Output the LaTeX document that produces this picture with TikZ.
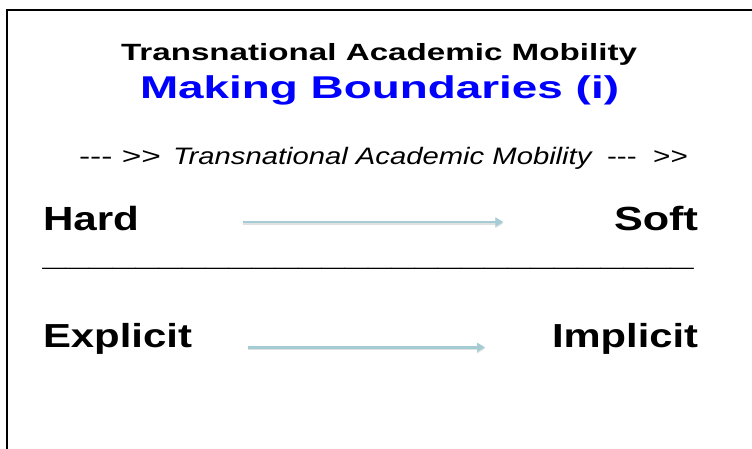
\documentclass[tikz,border=0pt]{standalone}
\usepackage{fontspec}
\setmainfont{Liberation Sans}[Ligatures=TeXOff]
\usepackage{graphicx}
\usetikzlibrary{arrows.meta}
\definecolor{titleblue}{RGB}{0,0,255}
\definecolor{arrowcol}{RGB}{164,204,212}
\tikzset{
  txt/.style={inner sep=0pt, outer sep=0pt, anchor=base west},
  flow/.style={draw=arrowcol, fill=arrowcol, line width=2.6pt, -{Triangle[length=8pt,width=9pt]}},
  flowshadow/.style={draw=black!12, fill=black!12, line width=2.6pt, -{Triangle[length=8pt,width=9pt]}, transform canvas={yshift=-1.4pt}},
  frameline/.style={line width=2.6pt, black}
}
\begin{document}
\begin{tikzpicture}[x=1pt,y=-1pt]
\useasboundingbox (0,0) rectangle (752,448);
\draw[frameline] (7,450) -- (7,10) -- (754,10);
% titles
\node[txt] (t1) at (121,60.5) {\resizebox{516pt}{\height}{\fontsize{23.5}{27}\selectfont\bfseries Transnational Academic Mobility}};
\node[txt, text=titleblue] (t2) at (140,98.5) {\resizebox{479pt}{\height}{\fontsize{31.5}{36}\selectfont\bfseries Making Boundaries (i)}};
\node[txt] (sub) at (79,164) {\fontsize{23.8}{28}\selectfont
  \resizebox{82pt}{\height}{--- >>}\hspace{12pt}%
  \resizebox{420pt}{\height}{\textit{Transnational Academic Mobility}}\hspace{14pt}%
  \resizebox{81pt}{\height}{---\ \ >>}};
% row 1
\node[txt] (hard) at (43,230.7) {\resizebox{96pt}{\height}{\fontsize{33.5}{38}\selectfont\bfseries Hard}};
\node[txt] (soft) at (614,230.7) {\resizebox{84pt}{\height}{\fontsize{33.5}{38}\selectfont\bfseries Soft}};
\coordinate (a1s) at (242.7,222);
\coordinate (a1e) at (503.3,222);
\draw[flowshadow] (a1s) -- (a1e);
\draw[flow] (a1s) -- (a1e);
% separator
\node[txt] (sep) at (42.7,265) {\resizebox*{651pt}{\totalheight}{\fontsize{32.7}{38}\selectfont\bfseries \_\_\_\_\_\_\_\_\_\_\_\_\_\_\_\_\_\_\_\_\_\_\_\_\_\_\_\_}};
% row 2
\node[txt] (expl) at (43,347.3) {\resizebox{149pt}{\height}{\fontsize{33.3}{38}\selectfont\bfseries Explicit}};
\node[txt] (impl) at (552,347.3) {\resizebox{146pt}{\height}{\fontsize{33.3}{38}\selectfont\bfseries Implicit}};
\coordinate (a2s) at (248.3,347.3);
\coordinate (a2e) at (485,347.3);
\draw[flowshadow] (a2s) -- (a2e);
\draw[flow] (a2s) -- (a2e);
\end{tikzpicture}
\end{document}
